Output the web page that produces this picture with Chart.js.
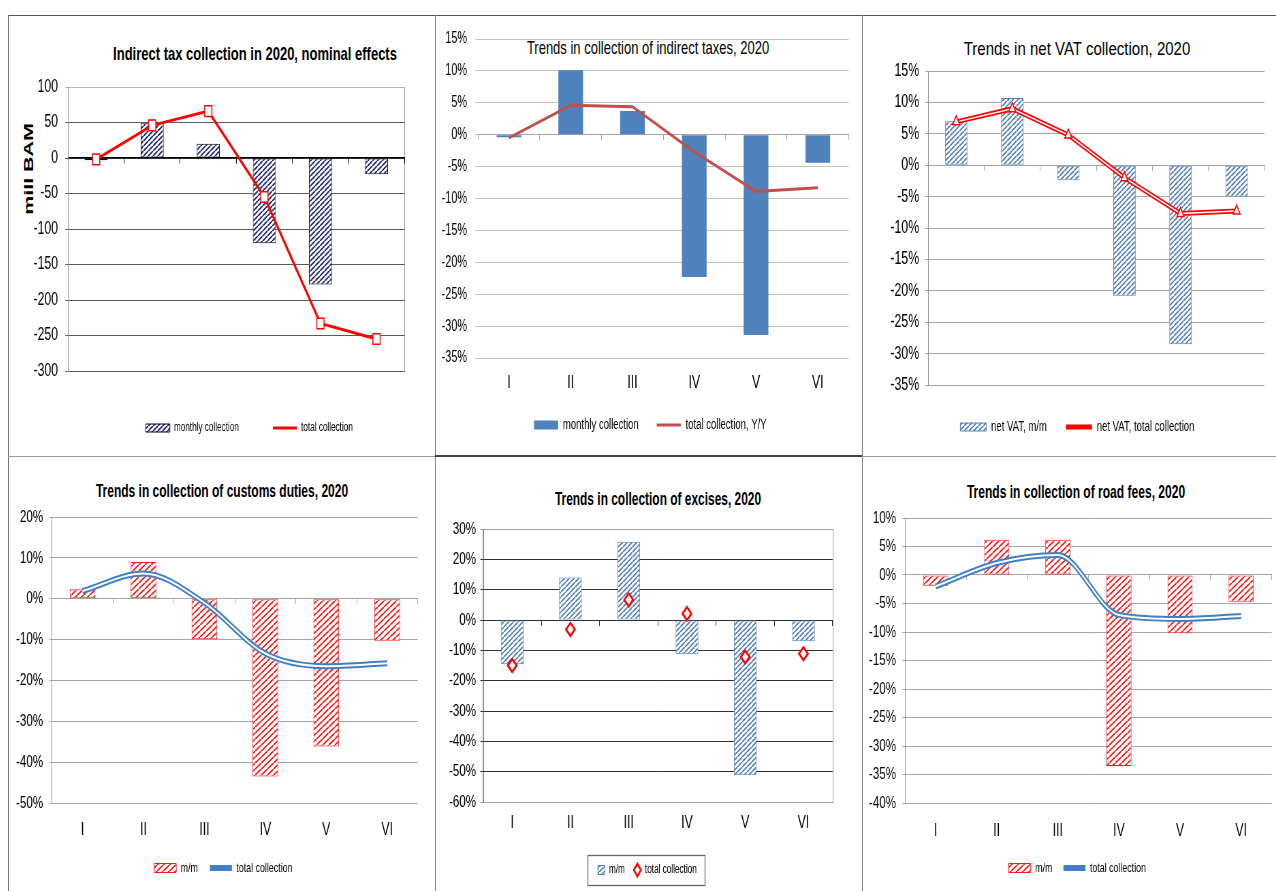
<!DOCTYPE html>
<html lang="en">
<head>
<meta charset="utf-8">
<title>Indirect tax collection 2020</title>
<script src="https://cdn.jsdelivr.net/npm/chart.js@4.4.1/dist/chart.umd.min.js"></script>
<style>
  html, body { margin: 0; padding: 0; background: #fff; }
  #page { position: relative; width: 1276px; height: 891px; overflow: hidden; background: #fff; }
  .ln { position: absolute; }
  .box { position: absolute; transform-origin: 0 0; }
  .ttl, .ylab { position: absolute; white-space: nowrap; line-height: 1; color: #000;
                font-family: "Liberation Sans", Arial, sans-serif; font-size: 19px; }
  .ttl.b, .ylab { font-weight: bold; }
</style>
</head>
<body>
<div id="page">
  <!-- frame between the six charts -->
  <div class="ln" style="left:8px;top:15px;width:1268px;height:1px;background:#555"></div>
  <div class="ln" style="left:8px;top:15px;width:1px;height:876px;background:#777"></div>
  <div class="ln" style="left:435px;top:15px;width:1px;height:876px;background:#888"></div>
  <div class="ln" style="left:862px;top:15px;width:1px;height:876px;background:#888"></div>
  <div class="ln" style="left:8px;top:456px;width:427px;height:1px;background:#999"></div>
  <div class="ln" style="left:435px;top:455px;width:427px;height:2px;background:#444"></div>
  <div class="ln" style="left:862px;top:456px;width:414px;height:1px;background:#999"></div>

  <!-- titles -->
  <div class="ttl b" data-w="284" style="left:255px;top:53px">Indirect tax collection in 2020, nominal effects</div>
  <div class="ttl" data-w="242" style="left:648px;top:47px">Trends in collection of indirect taxes, 2020</div>
  <div class="ttl" data-w="227" style="left:1077px;top:48px">Trends in net VAT collection, 2020</div>
  <div class="ttl b" data-w="252" style="left:222px;top:490px">Trends in collection of customs duties, 2020</div>
  <div class="ttl b" data-w="206" style="left:658px;top:498px">Trends in collection of excises, 2020</div>
  <div class="ttl b" data-w="218" style="left:1076px;top:491px">Trends in collection of road fees, 2020</div>
  <div class="ylab" data-w="92" style="left:28px;top:169px;font-size:20px">mill BAM</div>
</div>

<script>
// ---- data ----
const months = ['I', 'II', 'III', 'IV', 'V', 'VI'];

// mill BAM
const nominalMonthly = [-3, 49, 20, -120, -178, -23];
const nominalTotal   = [-2, 46, 66, -55, -233, -255];

// percent
const indirectMonthly = [-0.4, 10.1, 3.7, -22.3, -31.4, -4.4];
const indirectTotal   = [-0.5, 4.6, 4.4, -2.7, -8.9, -8.3];

const vatMonthly = [7.0, 10.7, -2.4, -20.8, -28.5, -5.0];
const vatTotal   = [6.9, 9.0, 4.8, -2.0, -7.7, -7.3];

const customsMonthly = [2.3, 9.0, -9.9, -43.5, -36.2, -10.3];
const customsTotal   = [1.9, 6.2, -1.0, -13.4, -16.5, -15.8];

const excisesMonthly = [-14.6, 14.0, 25.8, -11.3, -51.2, -7.0];
const excisesTotal   = [-15.0, -3.1, 6.6, 2.1, -12.2, -11.1];

const roadMonthly = [-1.9, 6.2, 6.2, -33.5, -10.2, -4.7];
const roadTotal   = [-2.0, 2.1, 3.5, -7.0, -7.7, -7.2];

// y axis ranges
const nominalAxis  = {min: -300, max: 100, step: 50};
const indirectAxis = {min: -35, max: 15, step: 5};
const vatAxis      = {min: -35, max: 15, step: 5};
const customsAxis  = {min: -50, max: 20, step: 10};
const excisesAxis  = {min: -60, max: 30, step: 10};
const roadAxis     = {min: -40, max: 10, step: 5};

// the source image is squeezed sideways, so every chart is drawn wider and scaled back
const K = 0.68;

// ---- titles: squeeze to the width of the original ----
document.querySelectorAll('.ttl').forEach(el => {
  const k = el.dataset.w / el.offsetWidth;
  el.style.transform = 'translate(-50%, -50%) scaleX(' + k.toFixed(3) + ')';
});
document.querySelectorAll('.ylab').forEach(el => {
  const k = el.dataset.w / el.offsetWidth;
  el.style.transform = 'translate(-50%, -50%) rotate(-90deg) scale(' + k.toFixed(3) + ', 0.68)';
});

Chart.defaults.font.family = '"Liberation Sans", Arial, sans-serif';
Chart.defaults.color = '#000';
Chart.defaults.animation = false;

const page = document.getElementById('page');

// diagonal "////" fill like the excel pattern fill (tile is widened to survive the squeeze)
function hatch(color, lw, step) {
  const w = Math.round(step / K), h = step;
  const c = document.createElement('canvas');
  c.width = w;
  c.height = h;
  const g = c.getContext('2d');
  g.fillStyle = '#fff';
  g.fillRect(0, 0, w, h);
  g.strokeStyle = color;
  g.lineWidth = lw;
  g.beginPath();
  g.moveTo(0, h); g.lineTo(w, 0);
  g.moveTo(-w, h); g.lineTo(0, 0);
  g.moveTo(w, h); g.lineTo(2 * w, 0);
  g.stroke();
  return g.createPattern(c, 'repeat');
}

// frame around the plot area
const plotBox = color => ({
  id: 'plotBox',
  beforeDraw(chart) {
    const a = chart.chartArea, ctx = chart.ctx;
    ctx.save();
    ctx.strokeStyle = color;
    ctx.lineWidth = 1;
    ctx.strokeRect(Math.round(a.left) + 0.5, Math.round(a.top) + 0.5, Math.round(a.right - a.left), Math.round(a.bottom - a.top));
    ctx.restore();
  }
});

// frame around the legend (excises chart)
const legendFrame = {
  id: 'legendFrame',
  afterDraw(chart) {
    const hb = chart.legend.legendHitBoxes;
    if (!hb || !hb.length) return;
    const l = Math.min(...hb.map(h => h.left)) - 10 / K;
    const r = Math.max(...hb.map(h => h.left + h.width)) + 8 / K;
    const t = hb[0].top - 9, b = hb[0].top + hb[0].height + 9;
    const ctx = chart.ctx;
    ctx.save();
    ctx.strokeStyle = '#666';
    ctx.lineWidth = 1.3;
    ctx.strokeRect(Math.round(l) + 0.5, Math.round(t) + 0.5, Math.round(r - l), Math.round(b - t));
    ctx.restore();
  }
};

function legendLabels(chart) {
  return Chart.defaults.plugins.legend.labels.generateLabels(chart).map(it => {
    const ds = chart.data.datasets[it.datasetIndex];
    if (ds.type === 'bar') {
      it.pointStyle = 'rect';
    } else if (ds.showLine === false) {
      it.pointStyle = 'rectRot';
    } else {
      it.pointStyle = 'line';
      it.strokeStyle = ds.borderColor;
      it.lineWidth = ds.borderWidth;
    }
    return it;
  });
}

// g: where things sit in the page (px); o: fonts and colours
function panel(g, axis, datasets, o) {
  const div = document.createElement('div');
  div.className = 'box';
  div.style.left = g.cL + 'px';
  div.style.top = g.cT + 'px';
  div.style.width = ((g.cR - g.cL) / K) + 'px';
  div.style.height = (g.cB - g.cT) + 'px';
  div.style.transform = 'scaleX(' + K + ')';
  const cv = document.createElement('canvas');
  div.appendChild(cv);
  page.appendChild(div);

  const itemH = Math.max(o.legendSize, o.boxH);
  const padB = g.cB - 10 - itemH / 2 - g.legY;

  return new Chart(cv, {
    data: { labels: months, datasets: datasets },
    options: {
      responsive: true,
      maintainAspectRatio: false,
      layout: { padding: { top: g.pT - g.cT, bottom: padB, left: 0, right: 0 } },
      scales: {
        x: {
          grid: { display: false, drawTicks: false },
          border: { display: false },
          ticks: { padding: g.labY - g.pB - o.xTick * 0.6, font: { size: o.xTick } },
          afterFit: s => { s.height = Math.max(0, (g.cB - g.cT) - padB - s.chart.legend.height - (g.pB - g.cT)); }
        },
        x0: {
          type: 'category',
          offset: true,
          position: { y: 0 },
          ticks: { display: false },
          grid: { offset: true, drawOnChartArea: false, tickLength: 5, color: o.zero },
          border: { color: o.zero, width: o.zeroW || 1 }
        },
        y: {
          min: axis.min,
          max: axis.max,
          ticks: {
            stepSize: axis.step,
            padding: (g.pL - g.labR) / K - 4,
            font: { size: o.yTick },
            callback: o.fmt
          },
          grid: { color: o.grid, tickLength: 4 },
          border: { display: o.axisLine !== false, color: '#8c8c8c' },
          afterFit: s => { s.width = (g.pL - g.cL) / K; }
        },
        yR: {
          position: 'right',
          grid: { display: false },
          border: { display: false },
          ticks: { display: false },
          afterFit: s => { s.width = (g.cR - g.pR) / K; }
        }
      },
      plugins: {
        legend: {
          position: 'bottom',
          labels: {
            usePointStyle: true,
            pointStyleWidth: o.boxW / K,
            boxHeight: o.boxH,
            padding: o.gap / K,
            font: { size: o.legendSize },
            filter: it => it.text !== '',
            sort: (a, b) => a.datasetIndex - b.datasetIndex,
            generateLabels: legendLabels
          }
        },
        tooltip: { enabled: false }
      }
    },
    plugins: o.extra || []
  });
}

const pct = v => v + '%';
const blueHatch = hatch('#4677b8', 1.6, 5);
const redHatch = hatch('#ff1010', 1.7, 6);

// 1. nominal effects
panel(
  {cL: 10, cR: 488, cT: 16, cB: 454, pL: 68, pR: 404, pT: 87, pB: 371, legY: 428, labY: 393, labR: 58},
  nominalAxis,
  [
    { type: 'bar', label: 'monthly collection', data: nominalMonthly,
      backgroundColor: hatch('#1c2070', 1.8, 5), borderColor: '#000', borderWidth: 1, borderSkipped: false,
      barPercentage: 1, categoryPercentage: 0.41, order: 1 },
    { type: 'line', label: 'total collection', data: nominalTotal,
      borderColor: '#ff0000', borderWidth: 3, backgroundColor: '#fff',
      pointStyle: 'rect', pointRadius: 7.5, pointBackgroundColor: '#fff', pointBorderColor: '#ff0000', pointBorderWidth: 1.5, order: 0 }
  ],
  { yTick: 18, xTick: 19, legendSize: 12, boxW: 24, boxH: 8, gap: 34, fmt: v => v,
    grid: c => c.tick.value === nominalAxis.max ? '#b4b4b4' : '#5a5a5a', zero: '#000', zeroW: 1.5,
    extra: [plotBox('#a6a6a6')] }
);

// 2. indirect taxes
panel(
  {cL: 437, cR: 863, cT: 16, cB: 454, pL: 478, pR: 848, pT: 39, pB: 358, legY: 425, labY: 383, labR: 467},
  indirectAxis,
  [
    { type: 'bar', label: 'monthly collection', data: indirectMonthly,
      backgroundColor: '#4f81bd', borderWidth: 0, barPercentage: 1, categoryPercentage: 0.4, order: 1 },
    { type: 'line', label: 'total collection, Y/Y', data: indirectTotal,
      borderColor: '#c0504d', borderWidth: 3, pointRadius: 0, order: 0 }
  ],
  { yTick: 16, xTick: 18, legendSize: 14, boxW: 24, boxH: 9, gap: 18, fmt: pct,
    grid: '#c3c3c3', zero: '#a6a6a6', axisLine: false }
);

// 3. net VAT
panel(
  {cL: 864, cR: 1290, cT: 16, cB: 454, pL: 928, pR: 1264, pT: 71, pB: 385, legY: 427, labY: 412, labR: 919},
  vatAxis,
  [
    { type: 'bar', label: 'net VAT, m/m', data: vatMonthly,
      backgroundColor: blueHatch, borderColor: '#4f81bd', borderWidth: 1, borderSkipped: false,
      barPercentage: 1, categoryPercentage: 0.4, order: 2 },
    { type: 'line', label: 'net VAT, total collection', data: vatTotal,
      borderColor: '#ff0000', borderWidth: 5, pointRadius: 0, order: 1 },
    { type: 'line', label: '', data: vatTotal,
      borderColor: '#fff', borderWidth: 1.5, pointStyle: 'triangle', pointRadius: 6,
      pointBackgroundColor: '#fff', pointBorderColor: '#ff0000', pointBorderWidth: 1.5, order: 0 }
  ],
  { yTick: 18, xTick: 19, legendSize: 14, boxW: 26, boxH: 8, gap: 19, fmt: pct,
    grid: '#a6a6a6', zero: '#a6a6a6' }
);

// 4. customs duties
panel(
  {cL: 10, cR: 436, cT: 457, cB: 891, pL: 52, pR: 417, pT: 517, pB: 803, legY: 868, labY: 830, labR: 43},
  customsAxis,
  [
    { type: 'bar', label: 'm/m', data: customsMonthly,
      backgroundColor: redHatch, borderColor: '#ff1a1a', borderWidth: 1, borderSkipped: false,
      barPercentage: 1, categoryPercentage: 0.42, order: 2 },
    { type: 'line', label: 'total collection', data: customsTotal,
      borderColor: '#3f7fc4', borderWidth: 6, cubicInterpolationMode: 'monotone', pointRadius: 0, order: 1 },
    { type: 'line', label: '', data: customsTotal,
      borderColor: '#fff', borderWidth: 2, cubicInterpolationMode: 'monotone', pointRadius: 0, order: 0 }
  ],
  { yTick: 17, xTick: 18, legendSize: 13, boxW: 22, boxH: 9, gap: 12, fmt: pct,
    grid: '#a6a6a6', zero: '#a6a6a6' }
);

// 5. excises
panel(
  {cL: 437, cR: 857, cT: 457, cB: 891, pL: 483, pR: 832, pT: 529, pB: 802, legY: 870, labY: 823, labR: 476},
  excisesAxis,
  [
    { type: 'bar', label: 'm/m', data: excisesMonthly,
      backgroundColor: blueHatch, borderColor: '#4f81bd', borderWidth: 1, borderSkipped: false,
      barPercentage: 1, categoryPercentage: 0.39, order: 1 },
    { type: 'line', label: 'total collection', data: excisesTotal, showLine: false,
      borderColor: '#ff0000', backgroundColor: '#fff', pointStyle: 'rectRot', pointRadius: 6.5,
      pointBackgroundColor: '#fff', pointBorderColor: '#ff0000', pointBorderWidth: 2.5, borderWidth: 2.5, order: 0 }
  ],
  { yTick: 17, xTick: 18, legendSize: 12, boxW: 7, boxH: 9, gap: 9, fmt: pct,
    grid: c => (c.tick.value === excisesAxis.max || c.tick.value === excisesAxis.min) ? '#a0a0a0' : '#303030',
    zero: '#303030', extra: [plotBox('#8c8c8c'), legendFrame] }
);

// 6. road fees
panel(
  {cL: 864, cR: 1290, cT: 457, cB: 891, pL: 905, pR: 1271, pT: 518, pB: 803, legY: 868, labY: 831, labR: 896},
  roadAxis,
  [
    { type: 'bar', label: 'm/m', data: roadMonthly,
      backgroundColor: redHatch, borderColor: '#ff1a1a', borderWidth: 1, borderSkipped: false,
      barPercentage: 1, categoryPercentage: 0.41, order: 2 },
    { type: 'line', label: 'total collection', data: roadTotal,
      borderColor: '#3f7fc4', borderWidth: 6, cubicInterpolationMode: 'monotone', pointRadius: 0, order: 1 },
    { type: 'line', label: '', data: roadTotal,
      borderColor: '#fff', borderWidth: 2, cubicInterpolationMode: 'monotone', pointRadius: 0, order: 0 }
  ],
  { yTick: 17, xTick: 18, legendSize: 13, boxW: 22, boxH: 9, gap: 11, fmt: pct,
    grid: '#a6a6a6', zero: '#a6a6a6' }
);
</script>
</body>
</html>
